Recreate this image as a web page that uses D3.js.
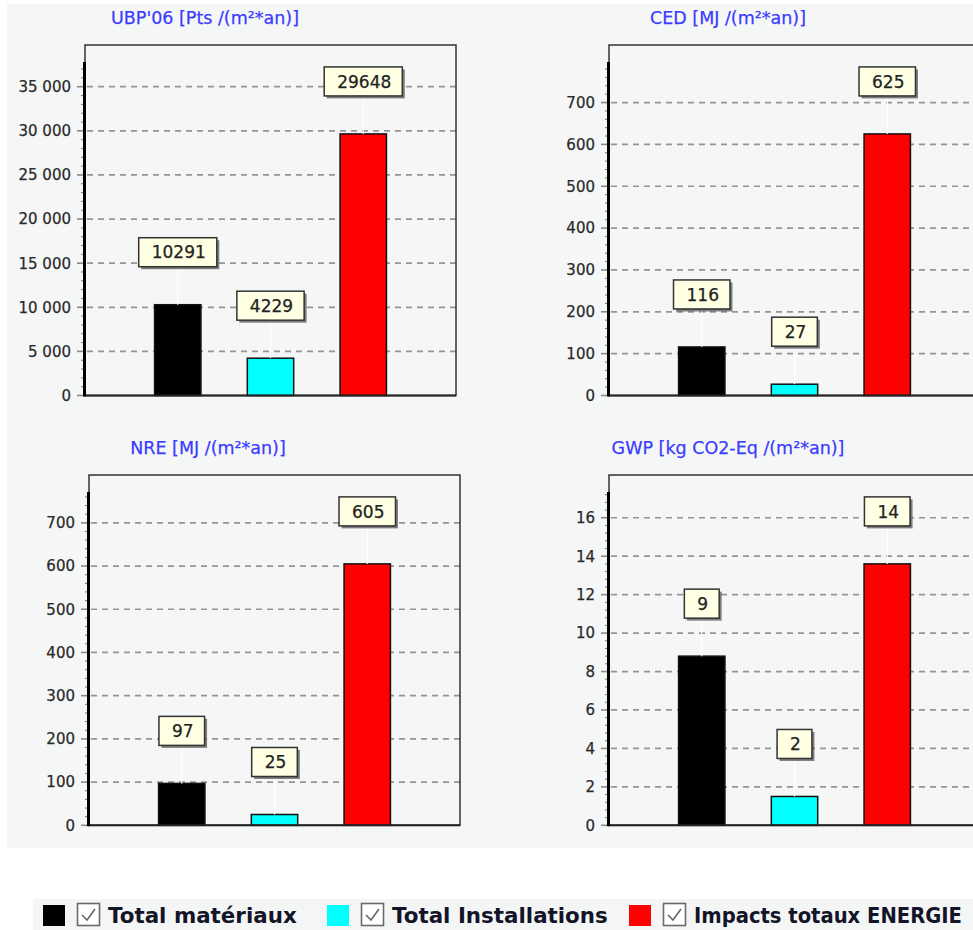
<!DOCTYPE html>
<html>
<head>
<meta charset="utf-8">
<script src="https://cdn.jsdelivr.net/npm/d3@7"></script>
<style>
  html, body { margin: 0; padding: 0; background: #ffffff; overflow: hidden; }
  svg { display: block; }
</style>
</head>
<body>
<svg id="chart" width="973" height="930"></svg>
<script>
// ---- data ----
const seriesNames = ["Total matériaux", "Total Installations", "Impacts totaux ENERGIE"];
const seriesColors = ["#000000", "#00ffff", "#ff0000"];
const indicatorTitles = [
  "UBP'06 [Pts /(m²*an)]",
  "CED [MJ /(m²*an)]",
  "NRE [MJ /(m²*an)]",
  "GWP [kg CO2-Eq /(m²*an)]"
];
const ubpValues = [10291, 4229, 29648];
const cedValues = [116, 27, 625];
const nreValues = [97, 25, 605];
const gwpValues = [8.8, 1.5, 13.6];
const tickSteps = [5000, 100, 100, 2];

// ---- formats ----
const frLocale = d3.formatLocale({ decimal: ",", thousands: " ", grouping: [3], currency: ["", ""] });
const tickFormats = [frLocale.format(",d"), d3.format("d"), d3.format("d"), d3.format("d")];
const labelFormat = d3.format(".0f");

// ---- layout ----
const frames = [
  { x0: 85,  x1: 456, y0: 45,  y1: 395.5, titleX: 205, titleY: 18 },
  { x0: 609, x1: 980, y0: 45,  y1: 395.5, titleX: 728, titleY: 18 },
  { x0: 89,  x1: 460, y0: 475, y1: 825.3, titleX: 208, titleY: 448 },
  { x0: 609, x1: 980, y0: 475, y1: 825.3, titleX: 728, titleY: 448 }
];
const valueSets = [ubpValues, cedValues, nreValues, gwpValues];
const headroom = 1.275;   // axis extends above the tallest bar

const svg = d3.select("#chart");

// panel background
svg.append("rect").attr("x", 7).attr("y", 4).attr("width", 980).attr("height", 844)
  .attr("fill", "#f5f7f7");

frames.forEach((f, i) => {
  const values = valueSets[i];
  const step = tickSteps[i];
  const g = svg.append("g");

  const x = d3.scaleLinear().domain([0, values.length + 1]).range([f.x0, f.x1]);
  const axisTop = f.y0 + 17;
  const yMax = d3.max(values) * headroom;
  const y = d3.scaleLinear().domain([0, yMax]).range([f.y1, axisTop]);
  const barW = (x(1) - x(0)) * 0.5;

  // title
  g.append("text")
    .attr("x", f.titleX).attr("y", f.titleY).attr("dy", "0.35em")
    .attr("text-anchor", "middle")
    .attr("font-family", "DejaVu Sans").attr("font-size", 17.5)
    .attr("fill", "#3c3cff").attr("stroke", "#3c3cff").attr("stroke-width", 0.25)
    .text(indicatorTitles[i]);

  const majors = d3.range(0, yMax, step);
  const minors = d3.range(0, yMax, step / 5).filter(v => Math.abs(v / step - Math.round(v / step)) > 1e-6);

  // dashed grid
  g.selectAll(".grid").data(majors.filter(v => v > 0)).join("line")
    .attr("x1", f.x0 + 2).attr("x2", f.x1)
    .attr("y1", d => y(d)).attr("y2", d => y(d))
    .attr("stroke", "#959595").attr("stroke-width", 1.7)
    .attr("stroke-dasharray", "6,5");

  // frame
  g.append("rect")
    .attr("x", f.x0).attr("y", f.y0)
    .attr("width", f.x1 - f.x0).attr("height", f.y1 - f.y0)
    .attr("fill", "none").attr("stroke", "#333").attr("stroke-width", 1.5);

  // major and minor ticks
  g.selectAll(".maj").data(majors).join("line")
    .attr("x1", f.x0 - 8).attr("x2", f.x0)
    .attr("y1", d => y(d)).attr("y2", d => y(d))
    .attr("stroke", "#8a8a8a").attr("stroke-width", 1.6);
  g.selectAll(".min").data(minors).join("line")
    .attr("x1", f.x0 - 4).attr("x2", f.x0)
    .attr("y1", d => y(d)).attr("y2", d => y(d))
    .attr("stroke", "#777").attr("stroke-width", 1);

  // tick labels
  g.selectAll(".tl").data(majors).join("text")
    .attr("x", f.x0 - 14).attr("y", d => y(d)).attr("dy", "0.36em")
    .attr("text-anchor", "end")
    .attr("font-family", "DejaVu Sans").attr("font-size", 15)
    .attr("fill", "#2a2a2a").attr("stroke", "#2a2a2a").attr("stroke-width", 0.25)
    .text(d => tickFormats[i](d));

  // bars
  g.selectAll(".bar").data(values).join("rect")
    .attr("x", (d, k) => x(k + 1) - barW / 2)
    .attr("y", d => y(d))
    .attr("width", barW)
    .attr("height", d => f.y1 - y(d))
    .attr("fill", (d, k) => seriesColors[k])
    .attr("stroke", "#111").attr("stroke-width", 1.5);

  // axes
  g.append("line").attr("x1", f.x0).attr("x2", f.x1).attr("y1", f.y1).attr("y2", f.y1)
    .attr("stroke", "#222").attr("stroke-width", 2);
  g.append("line").attr("x1", f.x0 - 0.5).attr("x2", f.x0 - 0.5).attr("y1", axisTop).attr("y2", f.y1 + 1)
    .attr("stroke", "#000").attr("stroke-width", 3);

  // value callouts
  values.forEach((v, k) => {
    const cx = x(k + 1);
    const top = y(v);
    const boxH = 29;
    const boxBottom = top - 38;
    const lg = g.append("g");
    lg.append("line").attr("x1", cx).attr("x2", cx).attr("y1", boxBottom).attr("y2", top)
      .attr("stroke", "#ffffff").attr("stroke-width", 1.2);
    const shadow = lg.append("rect");
    const box = lg.append("rect");
    const t = lg.append("text")
      .attr("x", cx + 1).attr("y", boxBottom - boxH / 2).attr("dy", "0.36em")
      .attr("text-anchor", "middle")
      .attr("font-family", "DejaVu Sans").attr("font-size", 17)
      .attr("fill", "#222").attr("stroke", "#222").attr("stroke-width", 0.25)
      .text(labelFormat(v));
    const w = t.node().getComputedTextLength() + 24;
    shadow.attr("x", cx - w / 2 + 2.5).attr("y", boxBottom - boxH + 2.5)
      .attr("width", w).attr("height", boxH).attr("fill", "#555").attr("opacity", 0.75);
    box.attr("x", cx - w / 2).attr("y", boxBottom - boxH)
      .attr("width", w).attr("height", boxH)
      .attr("fill", "#ffffe3").attr("stroke", "#333").attr("stroke-width", 1.5);
  });
});

// ---- legend ----
svg.append("rect").attr("x", 33).attr("y", 899).attr("width", 960).attr("height", 31)
  .attr("fill", "#f4f6f6");
const legendX = [43, 327, 629];
const leg = svg.append("g");
seriesNames.forEach((name, k) => {
  const lx = legendX[k];
  leg.append("rect").attr("x", lx).attr("y", 905).attr("width", 22).attr("height", 21)
    .attr("fill", seriesColors[k]);
  leg.append("rect").attr("x", lx + 34.5).attr("y", 903.5).attr("width", 22).attr("height", 22)
    .attr("fill", "#fff").attr("stroke", "#6a6a6a").attr("stroke-width", 1.6);
  leg.append("path")
    .attr("d", `M${lx + 39},${915} L${lx + 44},${920} L${lx + 52},${909}`)
    .attr("fill", "none").attr("stroke", "#666").attr("stroke-width", 1.6);
  const tx = lx + 65;
  const tg = leg.append("g");
  const t = tg.append("text")
    .attr("x", 0).attr("y", 0)
    .attr("font-family", "DejaVu Sans").attr("font-weight", "bold").attr("font-size", 21.4)
    .attr("fill", "#141428")
    .text(name);
  // narrow the last entry slightly so it stays inside the page width
  const room = 962 - tx;
  const len = t.node().getComputedTextLength();
  const sx = len > room ? room / len : 1;
  tg.attr("transform", `translate(${tx},923) scale(${sx},1)`);
});
</script>
</body>
</html>
